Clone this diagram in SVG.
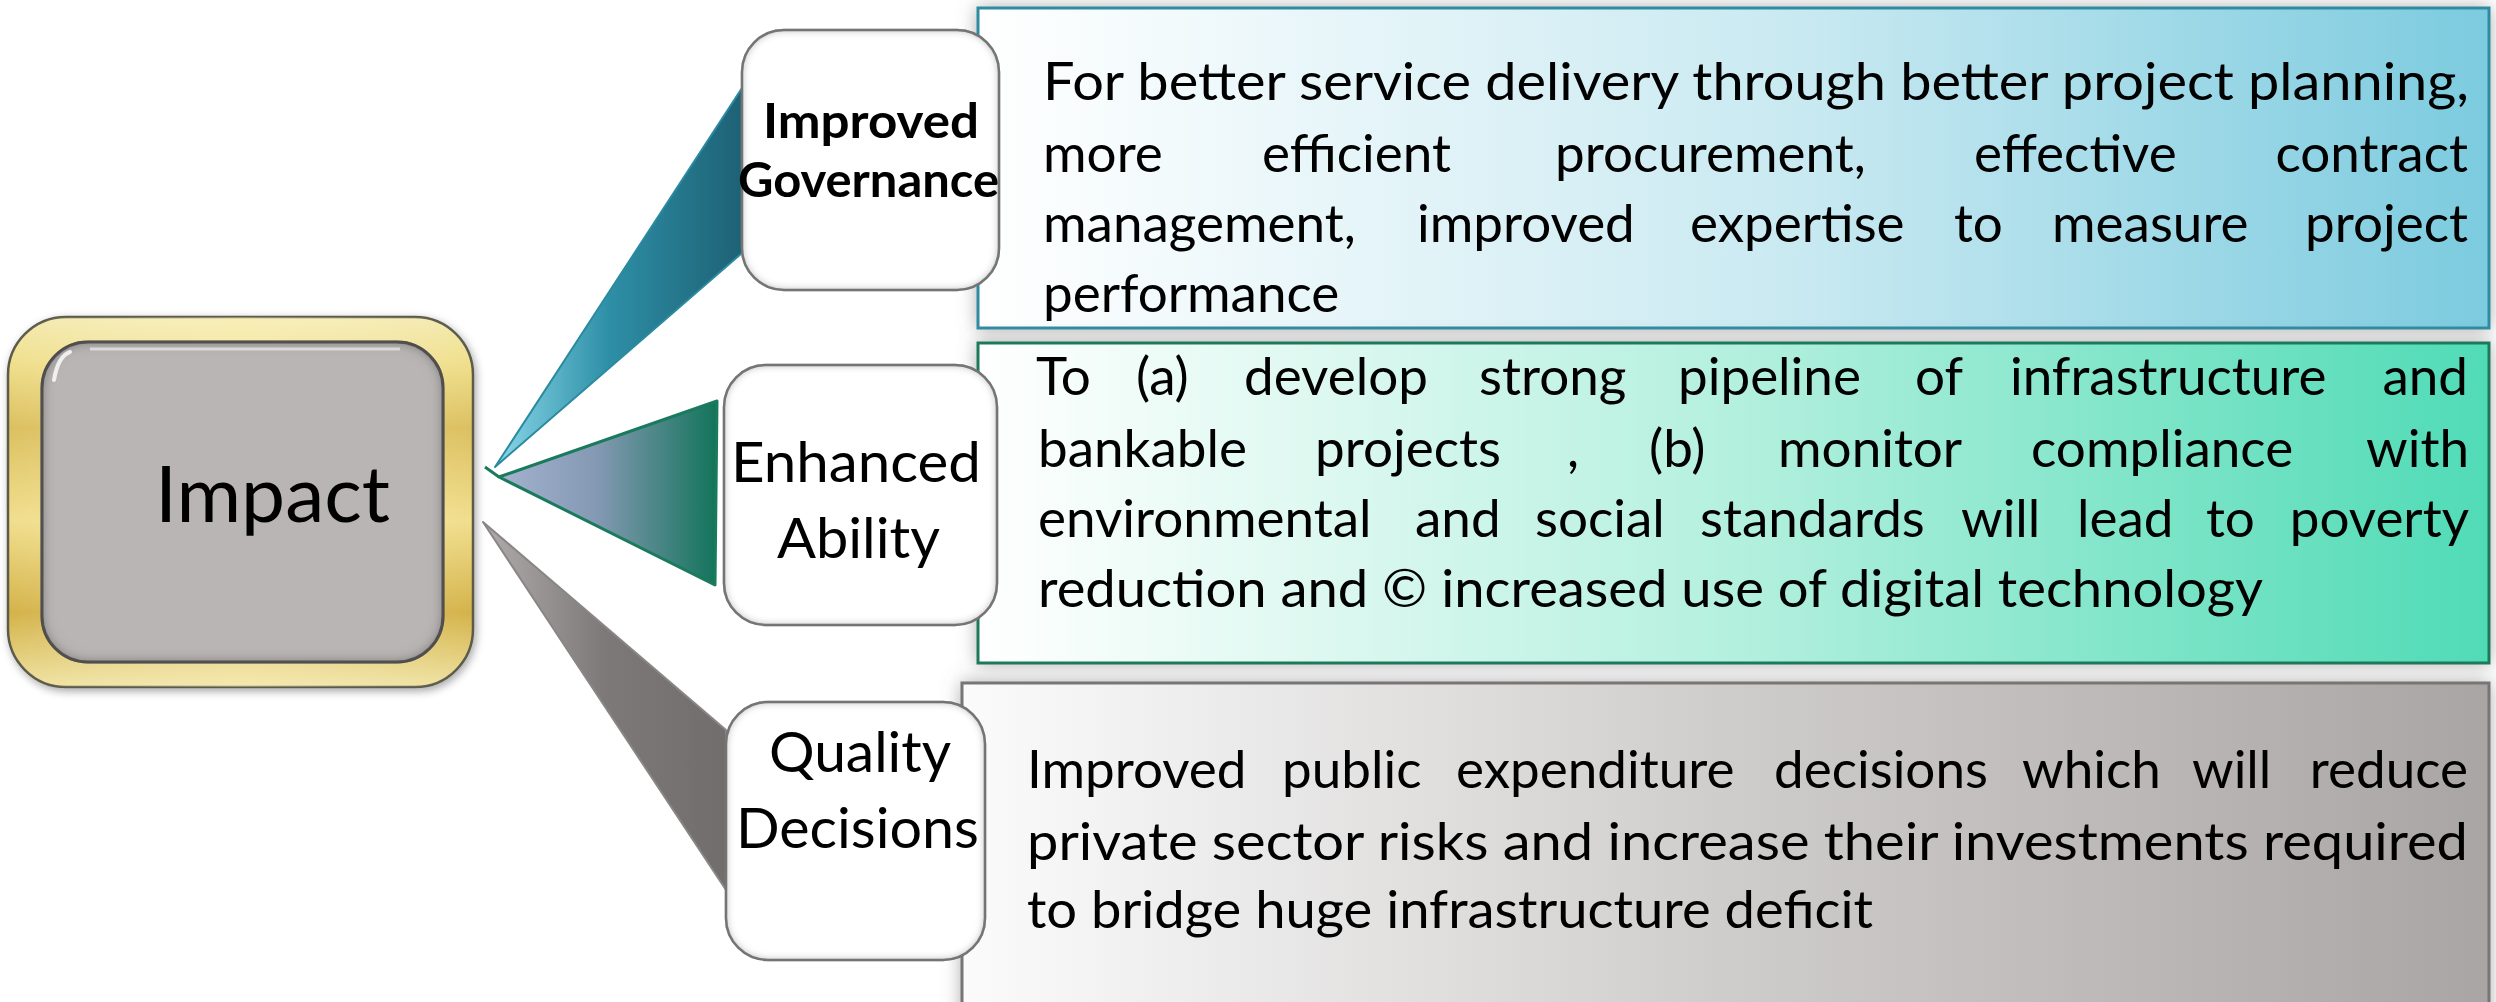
<svg xmlns="http://www.w3.org/2000/svg" width="2496" height="1002" viewBox="0 0 2496 1002">
<defs>
<style>
.t{font-family:Lato,"Liberation Sans",sans-serif;fill:#000}
.desc{font-size:53px}
.node{font-size:57px}
.nb{font-size:48px;font-weight:bold}
.wbox{fill:#fff;stroke:#7c7c7c;stroke-width:2.5}
.end{text-anchor:end}
</style>
<linearGradient id="gBlue" x1="0" y1="0" x2="1" y2="0"><stop offset="0" stop-color="#ffffff"/><stop offset="0.55" stop-color="#c8e9f1"/><stop offset="1" stop-color="#7ccbdf"/></linearGradient>
<linearGradient id="gGreen" x1="0" y1="0" x2="1" y2="0"><stop offset="0" stop-color="#ffffff"/><stop offset="0.5" stop-color="#b4f0de"/><stop offset="1" stop-color="#50dbb6"/></linearGradient>
<linearGradient id="gGray" x1="0" y1="0" x2="1" y2="0"><stop offset="0" stop-color="#fbfbfb"/><stop offset="0.5" stop-color="#cfcdcc"/><stop offset="1" stop-color="#a9a5a4"/></linearGradient>
<linearGradient id="wBlue" gradientUnits="userSpaceOnUse" x1="500" y1="0" x2="742" y2="0"><stop offset="0" stop-color="#86d4e6"/><stop offset="0.45" stop-color="#2d8fa6"/><stop offset="1" stop-color="#1e6175"/></linearGradient>
<linearGradient id="wGreen" gradientUnits="userSpaceOnUse" x1="499" y1="0" x2="717" y2="0"><stop offset="0" stop-color="#a4b2cf"/><stop offset="0.45" stop-color="#8499b3"/><stop offset="1" stop-color="#12745a"/></linearGradient>
<linearGradient id="wGray" gradientUnits="userSpaceOnUse" x1="483" y1="0" x2="726" y2="0"><stop offset="0" stop-color="#b0acac"/><stop offset="0.5" stop-color="#7d7979"/><stop offset="1" stop-color="#716d6c"/></linearGradient>
<linearGradient id="gold" x1="0" y1="0" x2="0" y2="1"><stop offset="0" stop-color="#f4eab0"/><stop offset="0.12" stop-color="#f0e08e"/><stop offset="0.3" stop-color="#dcc060"/><stop offset="0.55" stop-color="#f1df8e"/><stop offset="0.8" stop-color="#d4b34a"/><stop offset="1" stop-color="#efe2a0"/></linearGradient>
<linearGradient id="goldH" x1="0" y1="0" x2="1" y2="0"><stop offset="0" stop-color="#ffffff" stop-opacity="0"/><stop offset="0.5" stop-color="#fff6c8" stop-opacity="0.35"/><stop offset="1" stop-color="#ffffff" stop-opacity="0"/></linearGradient>
<filter id="shadow" x="-5%" y="-10%" width="110%" height="120%"><feDropShadow dx="0" dy="0" stdDeviation="9" flood-color="#6f6f6f" flood-opacity="0.55"/></filter>
<filter id="soft" x="-10%" y="-10%" width="120%" height="120%"><feDropShadow dx="2" dy="3" stdDeviation="4" flood-color="#000" flood-opacity="0.35"/></filter>
<filter id="inner" x="-5%" y="-5%" width="110%" height="110%">
<feFlood flood-color="#6a6a6a"/>
<feComposite in2="SourceAlpha" operator="out"/>
<feGaussianBlur stdDeviation="5"/>
<feComposite in2="SourceAlpha" operator="in" result="sh"/>
<feMerge><feMergeNode in="SourceGraphic"/><feMergeNode in="sh"/></feMerge>
</filter>
<filter id="innerDark" x="-5%" y="-5%" width="110%" height="110%">
<feFlood flood-color="#3a3a3a"/>
<feComposite in2="SourceAlpha" operator="out"/>
<feGaussianBlur stdDeviation="7"/>
<feComposite in2="SourceAlpha" operator="in" result="sh"/>
<feMerge><feMergeNode in="SourceGraphic"/><feMergeNode in="sh"/></feMerge>
</filter>
</defs>
<rect width="2496" height="1002" fill="#fff"/>

<g id="desc-governance">
<rect x="978" y="8" width="1511" height="320" fill="url(#gBlue)" stroke="#2f8ca2" stroke-width="3" filter="url(#shadow)"/>
<text class="t desc" x="1043" y="100" textLength="1426" lengthAdjust="spacingAndGlyphs">For better service delivery through better project planning,</text>
<text class="t desc" y="172"><tspan x="1043">more</tspan><tspan x="1262">efficient</tspan><tspan x="1555">procurement,</tspan><tspan x="1974">effective</tspan><tspan x="2468" class="end">contract</tspan></text>
<text class="t desc" y="242"><tspan x="1043">management,</tspan><tspan x="1417">improved</tspan><tspan x="1690">expertise</tspan><tspan x="1954">to</tspan><tspan x="2052">measure</tspan><tspan x="2468" class="end">project</tspan></text>
<text class="t desc" x="1043" y="312">performance</text>
</g>

<g id="desc-ability">
<rect x="978" y="343" width="1511" height="320" fill="url(#gGreen)" stroke="#1d7a5c" stroke-width="3" filter="url(#shadow)"/>
<text class="t desc" y="395"><tspan x="1036">To</tspan><tspan x="1136">(a)</tspan><tspan x="1244">develop</tspan><tspan x="1479">strong</tspan><tspan x="1678">pipeline</tspan><tspan x="1915">of</tspan><tspan x="2010">infrastructure</tspan><tspan x="2468" class="end">and</tspan></text>
<text class="t desc" y="467"><tspan x="1038">bankable</tspan><tspan x="1315">projects</tspan><tspan x="1567">,</tspan><tspan x="1649">(b)</tspan><tspan x="1778">monitor</tspan><tspan x="2031">compliance</tspan><tspan x="2469" class="end">with</tspan></text>
<text class="t desc" y="537"><tspan x="1038">environmental</tspan><tspan x="1415">and</tspan><tspan x="1535">social</tspan><tspan x="1700">standards</tspan><tspan x="1961">will</tspan><tspan x="2077">lead</tspan><tspan x="2206">to</tspan><tspan x="2469" class="end">poverty</tspan></text>
<text class="t desc" x="1038" y="607" textLength="1225" lengthAdjust="spacingAndGlyphs">reduction and © increased use of digital technology</text>
</g>

<g id="desc-decisions">
<rect x="962" y="683" width="1527" height="340" fill="url(#gGray)" stroke="#787474" stroke-width="3" filter="url(#shadow)"/>
<text class="t desc" y="788"><tspan x="1027">Improved</tspan><tspan x="1282">public</tspan><tspan x="1456">expenditure</tspan><tspan x="1774">decisions</tspan><tspan x="2022">which</tspan><tspan x="2192">will</tspan><tspan x="2468" class="end">reduce</tspan></text>
<text class="t desc" x="1027" y="860" textLength="1441" lengthAdjust="spacingAndGlyphs">private sector risks and increase their investments required</text>
<text class="t desc" x="1027" y="928" textLength="846" lengthAdjust="spacingAndGlyphs">to bridge huge infrastructure deficit</text>
</g>

<g id="connectors">
<polygon points="495,467 742,88 742,253" fill="url(#wBlue)" stroke="#2a8aa0" stroke-width="2" stroke-linejoin="round"/>
<polygon points="499,477 717,401 715,585" fill="url(#wGreen)" stroke="#1a7a5c" stroke-width="3" stroke-linejoin="round"/>
<line x1="485" y1="467" x2="499" y2="477" stroke="#1a7a5c" stroke-width="3"/>
<polygon points="483,522 726,730 726,890" fill="url(#wGray)" stroke="#8a8686" stroke-width="2" stroke-linejoin="round"/>
</g>

<g id="impact">
<rect x="8" y="317" width="465" height="370" rx="58" fill="url(#gold)" stroke="#5b5a4a" stroke-width="2.5" filter="url(#soft)"/>
<rect x="8" y="317" width="465" height="370" rx="58" fill="url(#goldH)"/>
<rect x="42" y="342" width="401" height="320" rx="46" fill="#b9b5b4" stroke="#5e5c5c" stroke-width="3" filter="url(#innerDark)"/>
<path d="M70,352 Q58,356 54,380" fill="none" stroke="#ffffff" stroke-width="4" stroke-linecap="round" opacity="0.8"/>
<path d="M90,349 L400,349" fill="none" stroke="#e6e4e4" stroke-width="3" opacity="0.8"/>
<text class="t" x="155" y="522" font-size="77" textLength="235" lengthAdjust="spacingAndGlyphs">Impact</text>
</g>

<g id="node-governance">
<rect class="wbox" x="742" y="30" width="257" height="260" rx="42" filter="url(#inner)"/>
<text class="t nb" x="763" y="138" textLength="216" lengthAdjust="spacingAndGlyphs">Improved</text>
<text class="t nb" x="738" y="197" textLength="261" lengthAdjust="spacingAndGlyphs">Governance</text>
</g>

<g id="node-ability">
<rect class="wbox" x="724" y="365" width="273" height="260" rx="42" filter="url(#inner)"/>
<text class="t node" x="731" y="482" textLength="250" lengthAdjust="spacingAndGlyphs">Enhanced</text>
<text class="t node" x="777" y="558" textLength="163" lengthAdjust="spacingAndGlyphs">Ability</text>
</g>

<g id="node-decisions">
<rect class="wbox" x="726" y="702" width="259" height="258" rx="42" filter="url(#inner)"/>
<text class="t node" x="769" y="772" textLength="182" lengthAdjust="spacingAndGlyphs">Quality</text>
<text class="t node" x="736" y="848" textLength="243" lengthAdjust="spacingAndGlyphs">Decisions</text>
</g>
</svg>
